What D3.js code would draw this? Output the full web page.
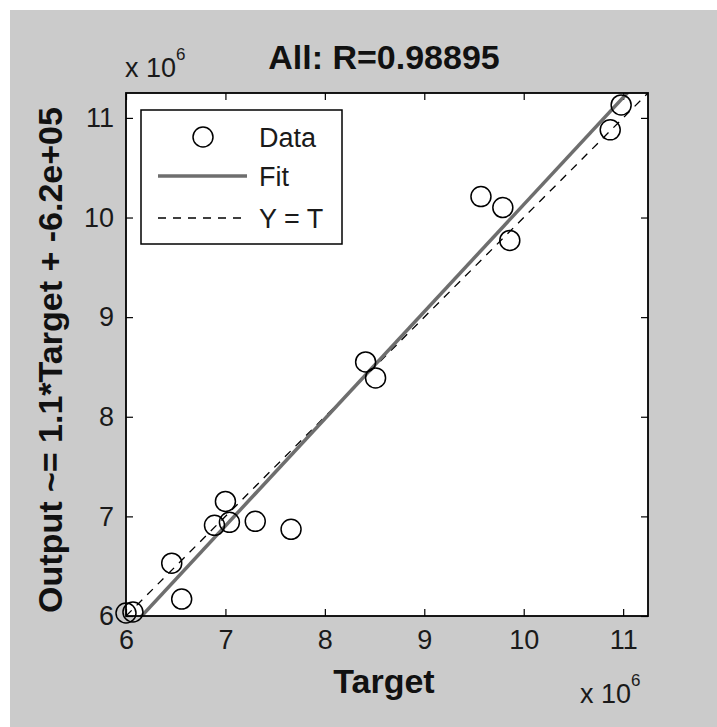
<!DOCTYPE html>
<html>
<head>
<meta charset="utf-8">
<script src="https://cdn.jsdelivr.net/npm/d3@7"></script>
<style>
  body { margin: 0; background: #fff; }
  text { font-family: "Liberation Sans", Arial, sans-serif; }
</style>
</head>
<body>
<div id="chart"></div>
<script>
// data, in units of 1e6
var targets = [6.00, 6.07, 6.46, 6.56, 6.89, 7.00, 7.04, 7.30, 7.66, 8.41, 8.51, 9.57, 9.79, 9.86, 10.87, 10.98];
var outputs = [6.03, 6.04, 6.53, 6.17, 6.91, 7.15, 6.94, 6.95, 6.87, 8.55, 8.39, 10.21, 10.10, 9.77, 10.88, 11.13];
var xTicks = [6, 7, 8, 9, 10, 11];
var yTicks = [6, 7, 8, 9, 10, 11];
var fitSlope = 1.075;
var fitIntercept = -0.62;
var legendLabels = ["Data", "Fit", "Y = T"];

function init() {
    var W = 717, H = 727;
    var left = 126, right = 648, top = 93, bottom = 616;

    var svg = d3.select("#chart").append("svg")
        .attr("width", W)
        .attr("height", H);

    // figure background (white strip top/left like the screenshot)
    svg.append("rect").attr("x", 0).attr("y", 0).attr("width", W).attr("height", H).attr("fill", "#fff");
    svg.append("rect").attr("x", 10).attr("y", 10).attr("width", W - 10).attr("height", H - 10).attr("fill", "#cbcbcb");

    var x = d3.scaleLinear().domain([6, 11.25]).range([left, right]);
    var y = d3.scaleLinear().domain([6, 11.25]).range([bottom, top]);

    svg.append("rect")
        .attr("x", left).attr("y", top)
        .attr("width", right - left).attr("height", bottom - top)
        .attr("fill", "#fff");

    svg.append("clipPath").attr("id", "clip")
        .append("rect")
        .attr("x", left).attr("y", top)
        .attr("width", right - left).attr("height", bottom - top);

    // axes, ticks pointing inward on all sides
    var tickLen = 7;
    function styleAxis(g, showLabels) {
        g.select(".domain").remove();
        g.selectAll(".tick line").attr("stroke", "#000").attr("stroke-width", 1.2);
        g.selectAll(".tick text")
            .attr("fill", "#1a1a1a")
            .style("font-size", "27px")
            .style("display", showLabels ? null : "none");
    }

    svg.append("g")
        .attr("transform", "translate(0," + bottom + ")")
        .call(d3.axisBottom(x).tickValues(xTicks).tickSize(-tickLen).tickPadding(14).tickFormat(d3.format("d")))
        .call(styleAxis, true);
    svg.append("g")
        .attr("transform", "translate(0," + top + ")")
        .call(d3.axisTop(x).tickValues(xTicks).tickSize(-tickLen))
        .call(styleAxis, false);
    svg.append("g")
        .attr("transform", "translate(" + left + ",0)")
        .call(d3.axisLeft(y).tickValues(yTicks).tickSize(-tickLen).tickPadding(12).tickFormat(d3.format("d")))
        .call(styleAxis, true);
    svg.append("g")
        .attr("transform", "translate(" + right + ",0)")
        .call(d3.axisRight(y).tickValues(yTicks).tickSize(-tickLen))
        .call(styleAxis, false);

    var plot = svg.append("g").attr("clip-path", "url(#clip)");
    var dom = x.domain();

    // Y = T dashed line
    plot.append("line")
        .attr("x1", x(dom[0])).attr("y1", y(dom[0]))
        .attr("x2", x(dom[1])).attr("y2", y(dom[1]))
        .attr("stroke", "#000")
        .attr("stroke-width", 1.3)
        .attr("stroke-dasharray", "8,7");

    // fit line
    plot.append("line")
        .attr("x1", x(dom[0])).attr("y1", y(fitSlope * dom[0] + fitIntercept))
        .attr("x2", x(dom[1])).attr("y2", y(fitSlope * dom[1] + fitIntercept))
        .attr("stroke", "#6e6e6e")
        .attr("stroke-width", 3.5);

    // data points
    svg.selectAll("circle.pt")
        .data(targets)
        .enter()
        .append("circle")
        .attr("class", "pt")
        .attr("cx", function(d) { return x(d); })
        .attr("cy", function(d, i) { return y(outputs[i]); })
        .attr("r", 10)
        .attr("fill", "none")
        .attr("stroke", "#000")
        .attr("stroke-width", 1.5);

    // frame
    svg.append("rect")
        .attr("x", left).attr("y", top)
        .attr("width", right - left).attr("height", bottom - top)
        .attr("fill", "none")
        .attr("stroke", "#000")
        .attr("stroke-width", 1.8);

    // legend
    var lg = svg.append("g");
    lg.append("rect")
        .attr("x", 141).attr("y", 110)
        .attr("width", 201).attr("height", 134)
        .attr("fill", "#fff")
        .attr("stroke", "#000")
        .attr("stroke-width", 1.5);
    var rows = [137, 176, 218];
    lg.append("circle").attr("cx", 203).attr("cy", rows[0]).attr("r", 10)
        .attr("fill", "none").attr("stroke", "#000").attr("stroke-width", 1.5);
    lg.append("line").attr("x1", 158).attr("x2", 247).attr("y1", rows[1]).attr("y2", rows[1])
        .attr("stroke", "#6e6e6e").attr("stroke-width", 3.5);
    lg.append("line").attr("x1", 158).attr("x2", 247).attr("y1", rows[2]).attr("y2", rows[2])
        .attr("stroke", "#000").attr("stroke-width", 1.3).attr("stroke-dasharray", "8,7");
    lg.selectAll("text.lab")
        .data(legendLabels)
        .enter()
        .append("text")
        .attr("class", "lab")
        .attr("x", 259)
        .attr("y", function(d, i) { return rows[i] + 10; })
        .attr("fill", "#1a1a1a")
        .style("font-size", "27px")
        .text(function(d) { return d; });

    // title and labels
    svg.append("text")
        .attr("x", 384).attr("y", 69)
        .attr("text-anchor", "middle")
        .style("font-size", "34px").style("font-weight", "bold")
        .attr("fill", "#111")
        .text("All: R=0.98895");

    svg.append("text")
        .attr("x", 384).attr("y", 693)
        .attr("text-anchor", "middle")
        .style("font-size", "34px").style("font-weight", "bold")
        .attr("fill", "#111")
        .text("Target");

    svg.append("text")
        .attr("transform", "translate(62,360) rotate(-90)")
        .attr("text-anchor", "middle")
        .style("font-size", "34px").style("font-weight", "bold")
        .attr("fill", "#111")
        .text("Output ~= 1.1*Target + -6.2e+05");

    // exponent labels
    function expLabel(x0, yb) {
        var t = svg.append("text").attr("x", x0).attr("y", yb)
            .attr("fill", "#1a1a1a").style("font-size", "27px");
        t.append("tspan").text("x 10");
        t.append("tspan").attr("dy", -17).style("font-size", "17px").text("6");
    }
    expLabel(125, 77);
    expLabel(580, 703);
}
window.onload = init;
</script>
</body>
</html>
